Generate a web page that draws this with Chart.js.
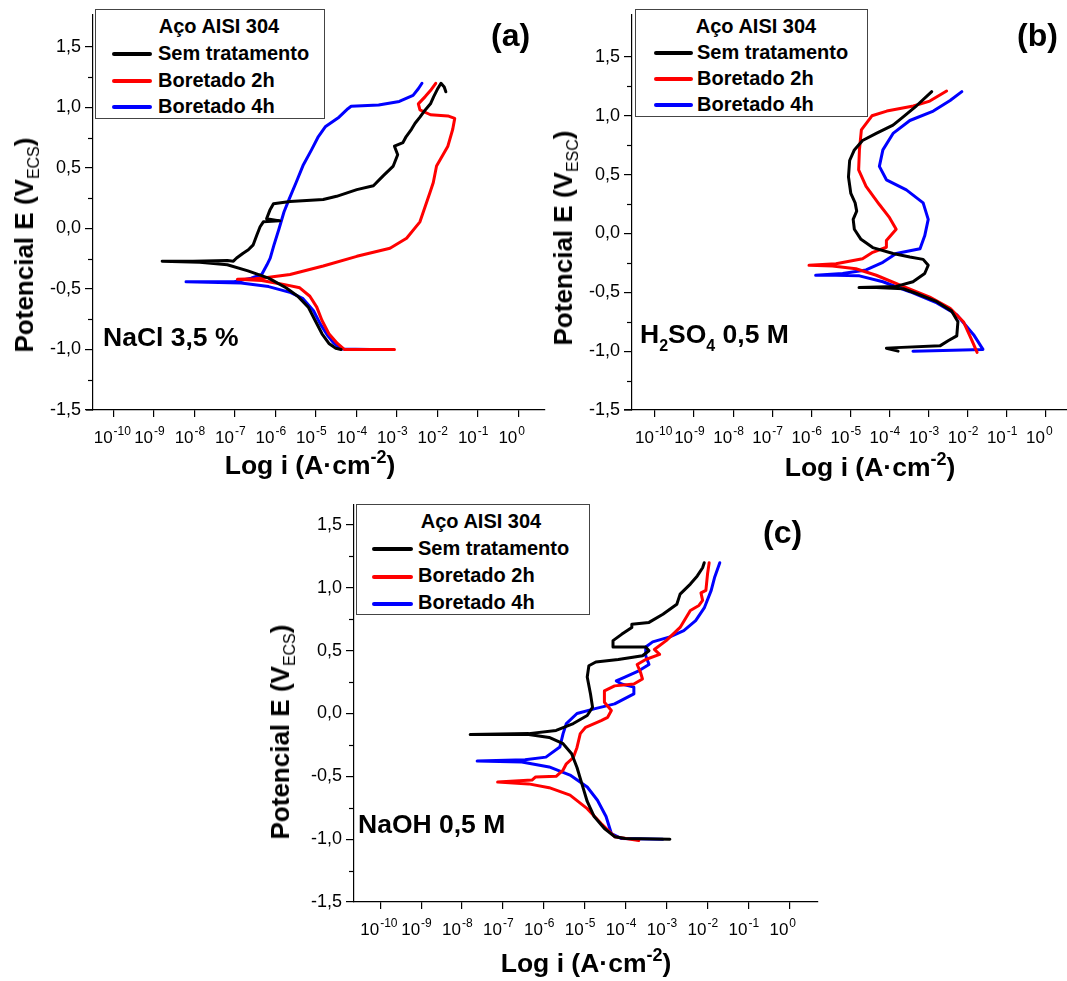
<!DOCTYPE html>
<html><head><meta charset="utf-8">
<script src="https://cdn.jsdelivr.net/npm/chart.js@4.4.1/dist/chart.umd.min.js"></script>
<style>
body{margin:0;background:#fff;width:1067px;height:981px;position:relative;overflow:hidden;font-family:"Liberation Sans",Arial,sans-serif;}
canvas{position:absolute;}
.t{position:absolute;white-space:nowrap;font-weight:bold;color:#000;line-height:1;}
.rot{transform:translate(-50%,-50%) rotate(-90deg);}
.ctr{transform:translateX(-50%);}
.leg{position:absolute;border:1px solid #444;background:#fff;box-sizing:border-box;}
.sw{position:absolute;height:4px;border-radius:2px;}
.lt{position:absolute;white-space:nowrap;font-weight:bold;font-size:20px;line-height:1;color:#000;}
.sub{font-size:16px;font-weight:normal;position:relative;top:6px;line-height:0;}
.sup{font-size:18px;position:relative;top:-11px;line-height:0;}
.chs{font-size:16px;position:relative;top:8px;line-height:0;}
</style></head><body>

<canvas id="cA" width="560" height="490" style="left:0;top:0;width:560px;height:490px"></canvas>
<canvas id="cB" width="507" height="490" style="left:560px;top:0;width:507px;height:490px"></canvas>
<canvas id="cC" width="560" height="491" style="left:260px;top:490px;width:560px;height:491px"></canvas>

<!-- panel (a) texts -->
<div class="t rot" style="left:24px;top:245px;font-size:26px">Potencial E (V<span class="sub">ECS</span>)</div>
<div class="t ctr" style="left:310px;top:452px;font-size:26.5px">Log i (A·cm<span class="sup">-2</span>)</div>
<div class="t" style="left:491px;top:19px;font-size:32px">(a)</div>
<div class="t" style="left:103px;top:324px;font-size:26.5px">NaCl 3,5 %</div>
<div class="leg" style="left:95px;top:9px;width:230px;height:110px"></div>
<div class="lt ctr" style="left:219px;top:16px">Aço AISI 304</div>
<div class="sw" style="left:112px;top:52px;width:40px;background:#000"></div>
<div class="sw" style="left:112px;top:79px;width:40px;background:#ff0000"></div>
<div class="sw" style="left:112px;top:105px;width:40px;background:#0000ff"></div>
<div class="lt" style="left:158px;top:43px">Sem tratamento</div>
<div class="lt" style="left:158px;top:70px">Boretado 2h</div>
<div class="lt" style="left:158px;top:96px">Boretado 4h</div>

<!-- panel (b) texts -->
<div class="t rot" style="left:563px;top:238px;font-size:26px">Potencial E (V<span class="sub">ESC</span>)</div>
<div class="t ctr" style="left:870px;top:454px;font-size:26.5px">Log i (A·cm<span class="sup">-2</span>)</div>
<div class="t" style="left:1017px;top:19px;font-size:32px">(b)</div>
<div class="t" style="left:640px;top:321px;font-size:26.5px">H<span class="chs">2</span>SO<span class="chs">4</span> 0,5 M</div>
<div class="leg" style="left:635px;top:9px;width:233px;height:108px"></div>
<div class="lt ctr" style="left:756px;top:16px">Aço AISI 304</div>
<div class="sw" style="left:654px;top:51px;width:39px;background:#000"></div>
<div class="sw" style="left:654px;top:77px;width:39px;background:#ff0000"></div>
<div class="sw" style="left:654px;top:103px;width:39px;background:#0000ff"></div>
<div class="lt" style="left:697px;top:42px">Sem tratamento</div>
<div class="lt" style="left:697px;top:68px">Boretado 2h</div>
<div class="lt" style="left:697px;top:94px">Boretado 4h</div>

<!-- panel (c) texts -->
<div class="t rot" style="left:280px;top:732px;font-size:26px">Potencial E (V<span class="sub">ECS</span>)</div>
<div class="t ctr" style="left:586px;top:950px;font-size:26.5px">Log i (A·cm<span class="sup">-2</span>)</div>
<div class="t" style="left:763px;top:516px;font-size:32px">(c)</div>
<div class="t" style="left:358px;top:811px;font-size:26.5px">NaOH 0,5 M</div>
<div class="leg" style="left:356px;top:504px;width:234px;height:111px"></div>
<div class="lt ctr" style="left:481px;top:511px">Aço AISI 304</div>
<div class="sw" style="left:372px;top:547px;width:41px;background:#000"></div>
<div class="sw" style="left:372px;top:575px;width:41px;background:#ff0000"></div>
<div class="sw" style="left:372px;top:602px;width:41px;background:#0000ff"></div>
<div class="lt" style="left:418px;top:538px">Sem tratamento</div>
<div class="lt" style="left:418px;top:565px">Boretado 2h</div>
<div class="lt" style="left:418px;top:592px">Boretado 4h</div>

<script>
// ---------- data (log10 of current density, potential in V) ----------
const seriesNames = ['Sem tratamento', 'Boretado 2h', 'Boretado 4h'];
const seriesColors = ['#000000', '#ff0000', '#0000ff'];
const xTickExponents = [-10, -9, -8, -7, -6, -5, -4, -3, -2, -1, 0];
const yTickValues = [-1.5, -1.0, -0.5, 0.0, 0.5, 1.0, 1.5];
const yMinorValues = [-1.25, -0.75, -0.25, 0.25, 0.75, 1.25];

// (a) NaCl 3,5 %
const naclSemLogI = [-4.38,-4.51,-4.68,-4.85,-5.02,-5.19,-5.45,-5.74,-6.17,-6.68,-7.19,-7.87,-8.80,-8.04,-7.19,-7.04,-6.96,-6.80,-6.67,-6.55,-6.46,-6.38,-6.30,-5.89,-6.22,-6.14,-6.05,-5.64,-4.82,-4.49,-3.99,-3.58,-3.34,-3.09,-2.98,-3.06,-2.85,-2.77,-2.64,-2.55,-2.43,-2.30,-2.17,-2.09,-2.00,-1.91,-1.83,-1.79];
const naclSemE    = [-1.00,-0.99,-0.95,-0.87,-0.76,-0.65,-0.56,-0.49,-0.41,-0.35,-0.30,-0.28,-0.27,-0.27,-0.265,-0.27,-0.244,-0.204,-0.176,-0.135,-0.054,0.014,0.055,0.063,0.081,0.15,0.204,0.223,0.239,0.266,0.321,0.353,0.435,0.516,0.61,0.68,0.71,0.76,0.82,0.87,0.92,0.98,1.03,1.09,1.15,1.20,1.17,1.13];
const nacl2hLogI  = [-3.06,-4.30,-4.47,-4.68,-4.85,-4.98,-5.15,-5.40,-5.83,-6.34,-6.94,-6.51,-6.30,-5.64,-4.82,-3.99,-3.17,-2.76,-2.43,-2.18,-2.10,-2.02,-1.91,-1.74,-1.62,-1.57,-1.74,-2.17,-2.43,-2.47,-2.30,-2.17,-2.04];
const nacl2hE     = [-1.00,-1.00,-0.95,-0.87,-0.76,-0.65,-0.56,-0.49,-0.46,-0.43,-0.42,-0.415,-0.41,-0.38,-0.31,-0.23,-0.163,-0.081,0.055,0.30,0.38,0.516,0.58,0.68,0.82,0.91,0.93,0.94,0.98,1.03,1.09,1.14,1.20];
const nacl4hLogI  = [-3.66,-4.38,-4.55,-4.72,-4.89,-5.06,-5.32,-5.62,-6.17,-6.85,-8.21,-7.02,-6.60,-6.34,-6.21,-6.13,-6.04,-5.91,-5.79,-5.66,-5.49,-5.32,-5.11,-4.94,-4.77,-4.43,-4.21,-4.13,-3.45,-2.94,-2.60,-2.47,-2.38];
const nacl4hE     = [-1.00,-0.995,-0.95,-0.88,-0.79,-0.68,-0.58,-0.53,-0.48,-0.45,-0.44,-0.44,-0.41,-0.38,-0.30,-0.245,-0.14,0.0,0.136,0.245,0.38,0.52,0.65,0.76,0.84,0.92,0.99,1.01,1.02,1.05,1.10,1.155,1.20];

// (b) H2SO4 0,5 M
const h2so4SemLogI = [-3.78,-4.08,-3.83,-2.71,-2.49,-2.28,-2.25,-2.41,-2.79,-3.31,-3.65,-4.34,-4.78,-3.83,-3.40,-3.10,-3.01,-3.14,-3.48,-3.91,-4.43,-4.73,-4.90,-4.93,-4.84,-4.88,-4.99,-5.05,-5.02,-4.90,-4.69,-4.34,-3.91,-3.65,-3.31,-2.92];
const h2so4SemE    = [-1.00,-0.975,-0.97,-0.955,-0.91,-0.87,-0.75,-0.66,-0.58,-0.51,-0.47,-0.46,-0.46,-0.45,-0.41,-0.34,-0.27,-0.22,-0.20,-0.17,-0.12,-0.05,0.036,0.12,0.19,0.26,0.34,0.48,0.62,0.71,0.79,0.85,0.92,0.99,1.085,1.205];
const h2so42hLogI  = [-1.76,-1.89,-2.11,-2.45,-2.97,-3.65,-4.34,-4.86,-5.46,-6.06,-5.37,-4.69,-4.43,-4.08,-4.08,-3.83,-4.00,-4.26,-4.60,-4.79,-4.77,-4.72,-4.45,-4.07,-3.39,-2.97,-2.54];
const h2so42hE     = [-1.01,-0.91,-0.75,-0.635,-0.54,-0.45,-0.355,-0.30,-0.277,-0.27,-0.257,-0.215,-0.16,-0.117,-0.06,0.036,0.134,0.246,0.40,0.54,0.71,0.88,1.00,1.04,1.083,1.125,1.21];
const h2so44hLogI  = [-3.40,-1.61,-1.85,-2.28,-2.79,-3.48,-4.17,-4.77,-5.37,-5.89,-5.20,-4.60,-4.17,-3.83,-3.22,-3.10,-3.01,-3.14,-3.57,-4.08,-4.26,-4.17,-3.91,-3.48,-2.88,-2.45,-2.15];
const h2so44hE     = [-1.00,-0.985,-0.86,-0.69,-0.59,-0.495,-0.41,-0.36,-0.355,-0.355,-0.34,-0.31,-0.245,-0.17,-0.13,-0.02,0.12,0.26,0.37,0.456,0.57,0.71,0.85,0.96,1.04,1.13,1.205];

// (c) NaOH 0,5 M
const naohSemLogI = [-2.92,-4.01,-4.27,-4.52,-4.77,-4.94,-5.07,-5.19,-5.32,-5.53,-5.87,-6.37,-7.80,-6.37,-5.70,-5.28,-4.94,-4.81,-4.86,-4.94,-4.90,-4.73,-4.18,-3.59,-3.43,-3.51,-4.31,-4.31,-4.10,-3.85,-3.85,-3.43,-3.09,-2.75,-2.67,-2.42,-2.25,-2.12,-2.08];
const naohSemE    = [-1.00,-0.995,-0.98,-0.915,-0.82,-0.70,-0.56,-0.43,-0.32,-0.24,-0.19,-0.167,-0.167,-0.16,-0.135,-0.08,-0.016,0.05,0.156,0.29,0.38,0.41,0.43,0.46,0.50,0.53,0.53,0.58,0.63,0.685,0.71,0.725,0.79,0.87,0.95,1.03,1.095,1.16,1.20];
const naoh2hLogI  = [-3.68,-4.27,-4.60,-4.94,-5.36,-5.87,-6.37,-7.13,-6.29,-6.20,-5.70,-5.53,-5.45,-5.28,-5.19,-5.11,-4.98,-4.60,-4.44,-4.35,-4.52,-4.52,-4.27,-3.80,-3.59,-3.64,-3.72,-3.51,-3.17,-3.30,-3.01,-2.67,-2.42,-2.21,-2.12,-2.16,-2.04,-2.00,-1.96];
const naoh2hE     = [-1.01,-0.98,-0.876,-0.757,-0.65,-0.59,-0.56,-0.545,-0.53,-0.505,-0.50,-0.45,-0.40,-0.35,-0.27,-0.16,-0.11,-0.056,-0.03,0.024,0.09,0.18,0.22,0.235,0.275,0.33,0.39,0.43,0.47,0.51,0.58,0.685,0.82,0.86,0.90,0.96,0.98,1.11,1.20];
const naoh4hLogI  = [-3.09,-4.10,-4.35,-4.48,-4.69,-4.94,-5.36,-5.87,-6.54,-7.63,-6.46,-5.95,-5.61,-5.53,-5.45,-5.19,-4.77,-4.27,-3.80,-3.80,-4.10,-4.23,-4.02,-3.68,-3.43,-3.51,-3.51,-3.34,-2.92,-2.58,-2.29,-2.08,-1.91,-1.83,-1.70];
const naoh4hE     = [-1.00,-0.995,-0.955,-0.82,-0.69,-0.585,-0.49,-0.425,-0.386,-0.378,-0.368,-0.347,-0.267,-0.16,-0.08,0.0,0.037,0.077,0.156,0.21,0.235,0.26,0.29,0.34,0.39,0.46,0.53,0.57,0.61,0.66,0.74,0.84,0.98,1.08,1.20];

// ---------- helpers ----------
const FONT_FAMILY = '"Liberation Sans", Arial, sans-serif';
function pts(xs, ys){ return xs.map((x, i) => ({x: x, y: ys[i]})); }
function ds(k, xs, ys){
  return {label: seriesNames[k], data: pts(xs, ys), showLine: true, borderColor: seriesColors[k],
          backgroundColor: seriesColors[k], borderWidth: 3, pointRadius: 0, tension: 0,
          borderJoinStyle: 'round', borderCapStyle: 'round', fill: false};
}
// minor y ticks, x-axis lead-in and power-of-ten x tick labels (10 with raised exponent)
const axisExtras = {
  id: 'axisExtras',
  afterDraw(chart, args, o){
    const ctx = chart.ctx, y = chart.scales.y, x = chart.scales.x, a = chart.chartArea;
    ctx.save();
    ctx.strokeStyle = '#000'; ctx.lineWidth = 1.2;
    yMinorValues.forEach(v => {
      if (v < y.min || v > y.max) return;
      const py = Math.round(y.getPixelForValue(v)) + 0.5;
      ctx.beginPath(); ctx.moveTo(a.left - 5, py); ctx.lineTo(a.left, py); ctx.stroke();
    });
    if (o.lead) {
      ctx.beginPath(); ctx.moveTo(a.left - o.lead, a.bottom); ctx.lineTo(a.left, a.bottom); ctx.stroke();
    }
    ctx.fillStyle = '#000';
    ctx.textBaseline = 'alphabetic';
    x.ticks.forEach(t => {
      const px = x.getPixelForValue(t.value);
      ctx.font = '17px ' + FONT_FAMILY;
      ctx.textAlign = 'right';
      ctx.fillText('10', px - 1, a.bottom + 33);
      ctx.font = '12px ' + FONT_FAMILY;
      ctx.textAlign = 'left';
      ctx.fillText(String(t.value), px, a.bottom + 25);
    });
    ctx.restore();
  }
};
function makePanel(id, datasets, cfg){
  const font = {family: FONT_FAMILY, size: 18};
  return new Chart(document.getElementById(id), {
    type: 'scatter',
    data: {datasets: datasets},
    plugins: [axisExtras],
    options: {
      responsive: false, animation: false, devicePixelRatio: 1,
      layout: {padding: cfg.padding},
      plugins: {legend: {display: false}, tooltip: {enabled: false}, axisExtras: {lead: cfg.lead}},
      scales: {
        x: {
          type: 'linear', min: cfg.xMin, max: cfg.xMax,
          afterBuildTicks: s => { s.ticks = xTickExponents.map(v => ({value: v})); },
          afterFit: s => { s.height = cfg.xH; },
          ticks: {display: false, autoSkip: false},
          grid: {drawOnChartArea: false, drawTicks: true, tickLength: 7, color: '#000', lineWidth: 1.2},
          border: {display: true, color: '#000', width: 1.2}
        },
        y: {
          type: 'linear', min: -1.5, max: cfg.yMax,
          afterBuildTicks: s => { s.ticks = yTickValues.map(v => ({value: v})); },
          afterFit: s => { s.width = cfg.yW; },
          ticks: {callback: v => v.toFixed(1).replace('.', ','), font: font, color: '#000', padding: 4, autoSkip: false},
          grid: {drawOnChartArea: false, drawTicks: true, tickLength: 8, color: '#000', lineWidth: 1.2},
          border: {display: true, color: '#000', width: 1.2}
        }
      }
    }
  });
}

makePanel('cA', [ds(0, naclSemLogI, naclSemE), ds(1, nacl2hLogI, nacl2hE), ds(2, nacl4hLogI, nacl4hE)],
  {padding: {left: 0, top: 9, right: 15, bottom: 0}, xMin: -10.509, xMax: 0.66, yMax: 1.766, yW: 93, xH: 80, lead: 7});
makePanel('cB', [ds(0, h2so4SemLogI, h2so4SemE), ds(1, h2so42hLogI, h2so42hE), ds(2, h2so44hLogI, h2so44hE)],
  {padding: {left: 0, top: 9, right: 0, bottom: 0}, xMin: -10.588, xMax: 0.54, yMax: 1.858, yW: 72, xH: 80, lead: 8});
makePanel('cC', [ds(0, naohSemLogI, naohSemE), ds(1, naoh2hLogI, naoh2hE), ds(2, naoh4hLogI, naoh4hE)],
  {padding: {left: 0, top: 14, right: 2, bottom: 0}, xMin: -10.64, xMax: 0.70, yMax: 1.661, yW: 94, xH: 79, lead: 0});
</script>
</body></html>
